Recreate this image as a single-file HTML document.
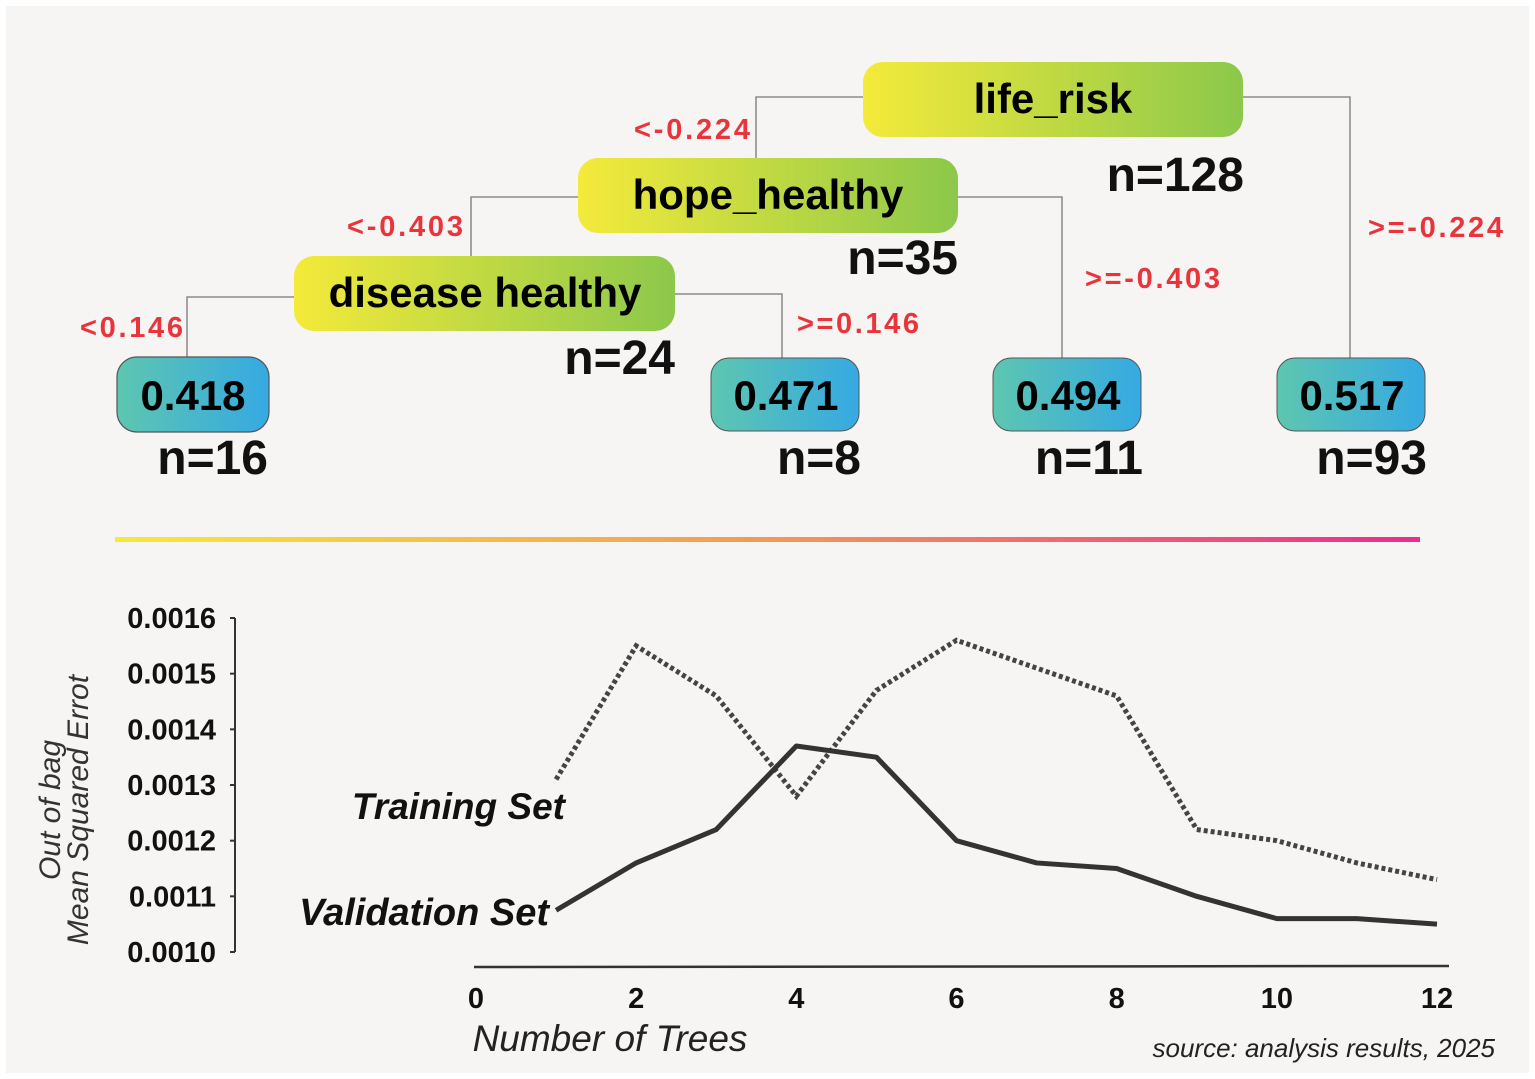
<!DOCTYPE html>
<html><head><meta charset="utf-8"><style>
html,body{margin:0;padding:0;background:#fff;}
svg{display:block;font-family:"Liberation Sans",sans-serif;}
</style></head><body>
<svg width="1535" height="1079" viewBox="0 0 1535 1079">
<defs>
<linearGradient id="gnode" x1="0" x2="1"><stop offset="0" stop-color="#f4ea3a"/><stop offset="1" stop-color="#8cc84b"/></linearGradient>
<linearGradient id="gleaf" x1="0" x2="1"><stop offset="0" stop-color="#5ec6b0"/><stop offset="1" stop-color="#35a9e3"/></linearGradient>
<linearGradient id="gdiv" x1="0" x2="1"><stop offset="0" stop-color="#f4ea3a"/><stop offset="0.5" stop-color="#f09a5a"/><stop offset="1" stop-color="#ea2e8e"/></linearGradient>
</defs>
<rect x="6" y="6" width="1523" height="1067" fill="#f6f5f3"/>
<g fill="none" stroke="#777" stroke-width="1.3">
<polyline points="863,97 756,97 756,158"/>
<polyline points="1243,97 1350,97 1350,358"/>
<polyline points="578,197 471,197 471,256"/>
<polyline points="958,197 1062,197 1062,358"/>
<polyline points="294,297 187,297 187,357"/>
<polyline points="675,294 782,294 782,358"/>
</g>
<g font-weight="bold" fill="#e8343a" font-size="29">
<text x="634" y="139" textLength="116">&lt;-0.224</text>
<text x="1368" y="237" textLength="135">&gt;=-0.224</text>
<text x="347" y="236" textLength="116">&lt;-0.403</text>
<text x="1085" y="288" textLength="135">&gt;=-0.403</text>
<text x="80" y="337" textLength="103">&lt;0.146</text>
<text x="797" y="333" textLength="122">&gt;=0.146</text>
</g>
<g font-weight="bold" font-size="42" text-anchor="middle">
<rect x="863" y="62" width="380" height="75" rx="20" fill="url(#gnode)"/>
<text x="1053" y="113">life_risk</text>
<rect x="578" y="158" width="380" height="75" rx="20" fill="url(#gnode)"/>
<text x="768" y="209">hope_healthy</text>
<rect x="294" y="256" width="381" height="75" rx="20" fill="url(#gnode)"/>
<text x="485" y="307">disease healthy</text>
<rect x="117" y="357" width="152" height="75" rx="20" fill="url(#gleaf)" stroke="#555" stroke-width="1.2"/>
<text x="193" y="410">0.418</text>
<rect x="711" y="358" width="148" height="73" rx="18" fill="url(#gleaf)" stroke="#555" stroke-width="1"/>
<text x="786" y="410">0.471</text>
<rect x="993" y="358" width="148" height="73" rx="18" fill="url(#gleaf)" stroke="#555" stroke-width="1"/>
<text x="1068" y="410">0.494</text>
<rect x="1277" y="358" width="148" height="73" rx="18" fill="url(#gleaf)" stroke="#555" stroke-width="1"/>
<text x="1352" y="410">0.517</text>
</g>
<g font-weight="bold" font-size="48" fill="#111" text-anchor="end">
<text x="1244" y="191">n=128</text>
<text x="958" y="274">n=35</text>
<text x="675" y="374">n=24</text>
<text x="268" y="474">n=16</text>
<text x="861" y="474">n=8</text>
<text x="1143" y="474">n=11</text>
<text x="1427" y="474">n=93</text>
</g>
<rect x="115" y="537" width="1305" height="5" fill="url(#gdiv)"/>
<g id="chart"></g>
<text x="610" y="1051" font-size="37" font-style="italic" fill="#222" text-anchor="middle">Number of Trees</text>
<text x="1495" y="1057" font-size="26" font-style="italic" fill="#222" text-anchor="end">source: analysis results, 2025</text>
<g transform="translate(60,810) rotate(-90)" font-size="30" font-style="italic" fill="#333" text-anchor="middle">
<text x="0" y="0">Out of bag</text><text x="0" y="28">Mean Squared Errot</text></g>
</svg>
<script>
const xTicks = [0, 2, 4, 6, 8, 10, 12];
const yTicks = [0.0010, 0.0011, 0.0012, 0.0013, 0.0014, 0.0015, 0.0016];
const yTickLabels = ["0.0010", "0.0011", "0.0012", "0.0013", "0.0014", "0.0015", "0.0016"];
const trees = [1, 2, 3, 4, 5, 6, 7, 8, 9, 10, 11, 12];
const validation = [0.001075, 0.00116, 0.00122, 0.00137, 0.00135, 0.00120, 0.00116, 0.00115, 0.00110, 0.00106, 0.00106, 0.00105];
const training = [0.00131, 0.00155, 0.00146, 0.00128, 0.00147, 0.00156, 0.00151, 0.00146, 0.00122, 0.00120, 0.00116, 0.00113];

const NS = "http://www.w3.org/2000/svg";
const g = document.getElementById("chart");
const xS = v => 476 + v * (1437 - 476) / 12;
const yS = v => 952 - (v - 0.001) / 0.0006 * 334;
function mk(tag, attrs, parent) { const e = document.createElementNS(NS, tag); for (const k in attrs) e.setAttribute(k, attrs[k]); (parent || g).appendChild(e); return e; }

const yAxis = mk("line", {x1: 235, x2: 235, y1: yS(0.0016), y2: yS(0.001), stroke: "#333", "stroke-width": 2});


const xAxis = mk("line", {x1: 474, x2: 1449, y1: 967, y2: 966, stroke: "#333", "stroke-width": 2.5});



yTicks.forEach((t, i) => {
  const tk = mk("line", {x1: 230, x2: 235, y1: yS(t), y2: yS(t), stroke: "#333", "stroke-width": 2});
  
  
  const tx = mk("text", {x: 216, y: yS(t) + 10, "text-anchor": "end", "font-size": 29, "font-weight": "bold", fill: "#111"});
  tx.textContent = yTickLabels[i];
  
  
});
xTicks.forEach(t => {
  const tx = mk("text", {x: xS(t), y: 1008, "text-anchor": "middle", "font-size": 29, "font-weight": "bold", fill: "#111"});
  tx.textContent = String(t);
  
  
});

const trPts = trees.map((t, i) => xS(t) + "," + yS(training[i])).join(" ");
const trLine = mk("polyline", {points: trPts, fill: "none", stroke: "#444", "stroke-width": 5, "stroke-dasharray": "4 3"});


const vaPts = trees.map((t, i) => xS(t) + "," + yS(validation[i])).join(" ");
const vaLine = mk("polyline", {points: vaPts, fill: "none", stroke: "#333", "stroke-width": 5, "stroke-linejoin": "round"});



const l1 = mk("text", {x: 565, y: 819, "text-anchor": "end", "font-size": 37, "font-weight": "bold", "font-style": "italic", fill: "#111"});
l1.textContent = "Training Set";


const l2 = mk("text", {x: 549, y: 925, "text-anchor": "end", "font-size": 38, "font-weight": "bold", "font-style": "italic", fill: "#111"});
l2.textContent = "Validation Set";


</script>
</body></html>
